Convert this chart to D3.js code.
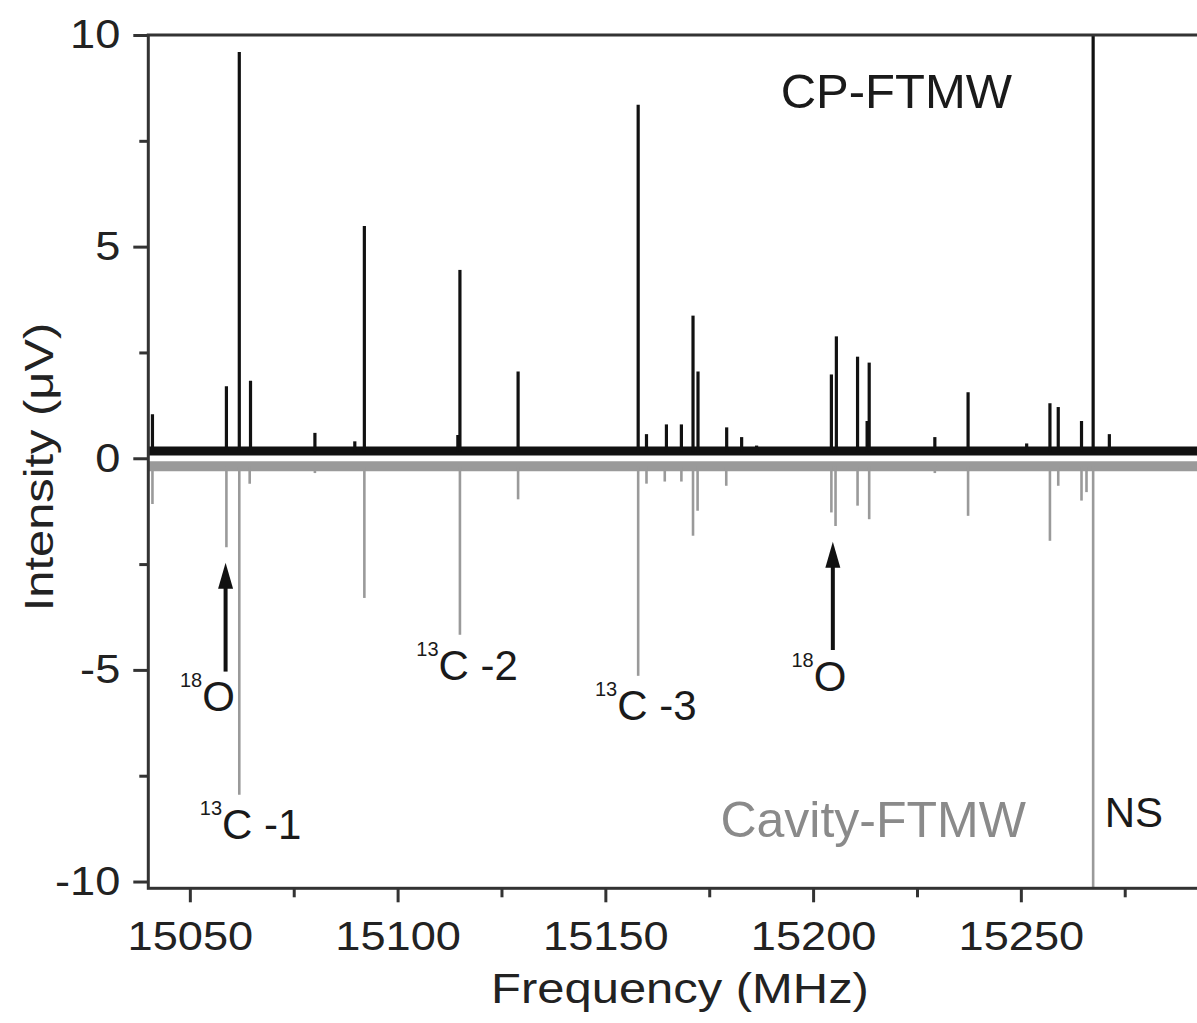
<!DOCTYPE html>
<html>
<head>
<meta charset="utf-8">
<script src="https://cdn.jsdelivr.net/npm/d3@7"></script>
<style>
  body { margin: 0; background: #fff; }
  svg text { font-family: "Liberation Sans", Arial, Helvetica, sans-serif; }
</style>
</head>
<body>
<div id="chart"></div>
<script>

      // CP-FTMW spectrum (upward, black): line positions (MHz) and intensities (uV)
      var cpFreq = [15041.0, 15058.8, 15061.9, 15064.6, 15080.1, 15089.7, 15092.0, 15114.5, 15115.0,
                    15129.0, 15157.9, 15159.9, 15164.7, 15168.3, 15171.1, 15172.3, 15179.2, 15182.8,
                    15186.4, 15204.4, 15205.6, 15210.7, 15213.0, 15213.5, 15229.3, 15237.3, 15251.4,
                    15257.0, 15259.0, 15264.6, 15267.4, 15271.3];
      var cpInt  = [1.04, 1.70, 9.60, 1.83, 0.60, 0.40, 5.49, 0.55, 4.45,
                    2.05, 8.35, 0.57, 0.80, 0.80, 3.37, 2.05, 0.73, 0.50,
                    0.30, 1.98, 2.88, 2.40, 0.88, 2.26, 0.50, 1.56, 0.35,
                    1.30, 1.21, 0.88, 10.5, 0.57];

      // Cavity-FTMW spectrum (downward, grey)
      var cavFreq = [15041.0, 15058.8, 15061.9, 15064.4, 15080.1, 15092.0, 15115.0, 15129.0, 15157.9,
                     15159.9, 15164.3, 15168.3, 15171.1, 15172.2, 15179.1, 15204.4, 15205.4, 15210.7,
                     15213.5, 15229.3, 15237.3, 15257.0, 15259.0, 15264.6, 15265.8, 15267.4];
      var cavInt  = [-1.08, -2.10, -7.95, -0.60, -0.35, -3.30, -4.17, -0.97, -5.14,
                     -0.60, -0.55, -0.55, -1.83, -1.24, -0.65, -1.28, -1.60, -1.12,
                     -1.44, -0.35, -1.36, -1.95, -0.65, -1.00, -0.80, -10.16];

      var cpBase = 0.17;
      var cavBase = -0.19;

      var xTicks = [15050, 15100, 15150, 15200, 15250];
      var xMinor = [15075, 15125, 15175, 15225, 15275];
      var yTicks = [-10, -5, 0, 5, 10];
      var yMinor = [-7.5, -2.5, 2.5, 7.5];

      // labels: [freq, intensity, superscript, main text]
      var labels = [
        [15047.6, -5.97, "18", "O"],
        [15052.4, -8.99, "13", "C -1"],
        [15104.5, -5.24, "13", "C -2"],
        [15147.5, -6.18, "13", "C -3"],
        [15194.8, -5.50, "18", "O"]
      ];
      // arrows: [freq, tail intensity, tip intensity]
      var arrows = [
        [15058.6, -5.04, -2.47],
        [15204.75, -4.53, -1.97]
      ];

      var W = 1197, H = 1023;
      var plotLeft = 148.3, plotTop = 35, plotBottom = 888.3;

      var svg = d3.select("#chart").append("svg")
          .attr("width", W)
          .attr("height", H);

      ////// scales //////
      var xScale = d3.scaleLinear()
          .domain([15040, 15300])
          .range([plotLeft, plotLeft + 260 * 4.155]);
      var yScale = d3.scaleLinear()
          .domain([-10.16, 10])
          .range([plotBottom, plotTop]);

      var plotWidth = xScale.range()[1] - plotLeft;

      svg.append("defs").append("clipPath").attr("id", "plotclip")
        .append("rect")
          .attr("x", plotLeft).attr("y", plotTop)
          .attr("width", plotWidth)
          .attr("height", plotBottom - plotTop);

      var plot = svg.append("g").attr("clip-path", "url(#plotclip)");

      // baselines (noise bands)
      plot.append("line")
          .attr("x1", xScale(15040)).attr("x2", xScale(15300))
          .attr("y1", yScale(cavBase)).attr("y2", yScale(cavBase))
          .attr("stroke", "#9a9a9a").attr("stroke-width", 10);
      plot.append("line")
          .attr("x1", xScale(15040)).attr("x2", xScale(15300))
          .attr("y1", yScale(cpBase)).attr("y2", yScale(cpBase))
          .attr("stroke", "#111").attr("stroke-width", 9);

      // cavity sticks
      plot.append("g").selectAll("line")
          .data(d3.range(cavFreq.length))
          .enter().append("line")
          .attr("x1", function(i) { return xScale(cavFreq[i]); })
          .attr("x2", function(i) { return xScale(cavFreq[i]); })
          .attr("y1", yScale(cavBase))
          .attr("y2", function(i) { return yScale(cavInt[i]); })
          .attr("stroke", "#9a9a9a")
          .attr("stroke-width", 2.6);

      // CP-FTMW sticks
      plot.append("g").selectAll("line")
          .data(d3.range(cpFreq.length))
          .enter().append("line")
          .attr("x1", function(i) { return xScale(cpFreq[i]); })
          .attr("x2", function(i) { return xScale(cpFreq[i]); })
          .attr("y1", yScale(cpBase))
          .attr("y2", function(i) { return yScale(cpInt[i]); })
          .attr("stroke", "#111")
          .attr("stroke-width", 3.2);

      ////// axes //////
      var plainNum = function(d) { return String(d); };   // hyphen minus like the original
      var xAxis = d3.axisBottom(xScale).tickValues(xTicks).tickSize(14).tickPadding(19)
          .tickFormat(plainNum);
      var xAxisMinor = d3.axisBottom(xScale).tickValues(xMinor).tickSize(9).tickFormat("");
      var yAxis = d3.axisLeft(yScale).tickValues(yTicks).tickSize(15).tickPadding(13)
          .tickFormat(plainNum);
      var yAxisMinor = d3.axisLeft(yScale).tickValues(yMinor).tickSize(9).tickFormat("");

      var gx = svg.append("g").attr("transform", "translate(0," + plotBottom + ")").call(xAxis);
      svg.append("g").attr("transform", "translate(0," + plotBottom + ")").call(xAxisMinor);
      var gy = svg.append("g").attr("transform", "translate(" + plotLeft + ",0)").call(yAxis);
      svg.append("g").attr("transform", "translate(" + plotLeft + ",0)").call(yAxisMinor);

      svg.selectAll(".domain").remove();
      svg.selectAll(".tick line").attr("stroke", "#333").attr("stroke-width", 3);

      gx.selectAll("text")
          .attr("font-size", 40)
          .attr("fill", "#222")
          .attr("transform", "scale(1.13,1)");
      gy.selectAll("text")
          .attr("font-size", 40)
          .attr("fill", "#222")
          .attr("x", null)
          .attr("transform", "translate(-28,0) scale(1.13,1)");

      // frame
      svg.append("rect")
          .attr("x", plotLeft).attr("y", plotTop)
          .attr("width", plotWidth)
          .attr("height", plotBottom - plotTop)
          .attr("fill", "none")
          .attr("stroke", "#333")
          .attr("stroke-width", 3);

      // axis titles
      svg.append("text")
          .attr("transform", "translate(53,467) rotate(-90) scale(1.22,1)")
          .attr("text-anchor", "middle")
          .attr("font-size", 40)
          .attr("fill", "#222")
          .text("Intensity (\u03BCV)");

      svg.append("text")
          .attr("transform", "translate(680,1003) scale(1.165,1)")
          .attr("text-anchor", "middle")
          .attr("font-size", 42)
          .attr("fill", "#222")
          .text("Frequency (MHz)");

      // series names
      svg.append("text")
          .attr("x", xScale(15192.2)).attr("y", yScale(8.27))
          .attr("font-size", 49)
          .attr("fill", "#1a1a1a")
          .text("CP-FTMW");
      svg.append("text")
          .attr("x", xScale(15177.7)).attr("y", yScale(-8.94))
          .attr("font-size", 50)
          .attr("fill", "#8a8a8a")
          .text("Cavity-FTMW");
      svg.append("text")
          .attr("x", xScale(15270.2)).attr("y", yScale(-8.71))
          .attr("font-size", 42)
          .attr("fill", "#1a1a1a")
          .text("NS");

      // isotopologue labels
      labels.forEach(function(d) {
        var t = svg.append("text")
            .attr("x", xScale(d[0])).attr("y", yScale(d[1]))
            .attr("fill", "#1a1a1a");
        t.append("tspan").attr("font-size", 20).attr("dy", -24).text(d[2]);
        t.append("tspan").attr("font-size", 42).attr("dy", 24).text(d[3]);
      });

      // arrows
      arrows.forEach(function(d) {
        var ax = xScale(d[0]), tipY = yScale(d[2]);
        svg.append("line")
            .attr("x1", ax).attr("x2", ax)
            .attr("y1", yScale(d[1])).attr("y2", tipY + 20)
            .attr("stroke", "#111").attr("stroke-width", 4);
        svg.append("path")
            .attr("d", "M" + ax + "," + tipY + "L" + (ax - 7.5) + "," + (tipY + 26) +
                       "L" + (ax + 7.5) + "," + (tipY + 26) + "Z")
            .attr("fill", "#111");
      });

</script>
</body>
</html>
